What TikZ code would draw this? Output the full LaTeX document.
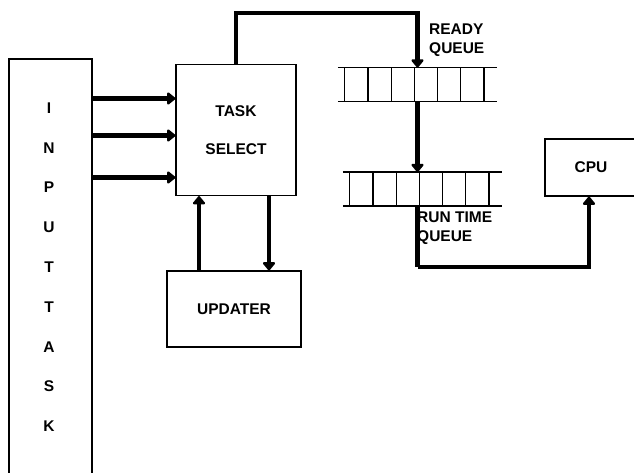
\documentclass[tikz,border=0pt]{standalone}
\usepackage{fontspec}
\setmainfont{Liberation Sans}
\usetikzlibrary{positioning,arrows.meta}

\begin{document}
\begin{tikzpicture}[x=1pt,y=-1pt,
  box/.style={draw,line width=1.2pt,inner sep=0pt,font=\fontsize{15.5}{20}\selectfont\bfseries,align=center},
  lbl/.style={inner sep=0pt,font=\fontsize{15.5}{19.5}\selectfont\bfseries,align=left},
  queue/.style={minimum width=159pt,minimum height=33.5pt,inner sep=0pt},
  link/.style={line width=4.5pt,-{Triangle[length=9pt,width=14pt,round]}},
  wire/.style={line width=4.5pt}]
  \useasboundingbox (0,0) rectangle (634,473);
  % boxes
  \node[box,minimum width=83pt,minimum height=425pt] (input) at (50.5,271.5) {};
  \foreach \c [count=\i] in {I,N,P,U,T,T,A,S,K}
    \node[lbl] (l\i) at (49,{108+39.8*(\i-1)}) {\c};
  \node[box,minimum width=120pt,minimum height=131pt] (task) at (236,130) {TASK\\[18pt]SELECT};
  \node[box,minimum width=134pt,minimum height=76pt] (updater) at (234,309) {UPDATER};
  \node[box,minimum width=92pt,minimum height=57pt] (cpu) at (591,167.5) {CPU};
  % queues
  \node[queue] (ready) at (417.5,84.5) {};
  \node[queue] (run) at (422.5,189) {};
  \foreach \q in {ready,run}{
    \draw[line width=1.2pt] (\q.north west) -- (\q.north east) (\q.south west) -- (\q.south east);
    \foreach \k [evaluate=\k as \dx using 7+23.2*\k] in {0,...,6}
      \draw[line width=1.2pt] ([xshift=\dx pt]\q.north west) -- ([xshift=\dx pt]\q.south west);
  }
  \node[lbl,anchor=west] (readylbl) at (429,40) {READY\\QUEUE};
  \node[lbl,anchor=west] (runlbl) at (417,228) {RUN TIME\\QUEUE};
  % connectors
  \foreach \dy in {31.5,-5.5,-47.5}
    \draw[link] ([yshift=\dy pt]task.west -| input.east) -- ([yshift=\dy pt]task.west);
  \coordinate (bend1) at (236,13);
  \draw[link] (task.north) -- (bend1) -| (ready.north);
  \draw[link] (ready.south) -- (ready.south |- run.north);
  \coordinate (bend2) at (417.5,267);
  \draw[wire] (ready.south |- run.south) -- (bend2);
  \draw[link] (bend2) -| ([xshift=-2pt]cpu.south);
  \coordinate (up1) at ([xshift=-37pt]task.south);
  \coordinate (dn1) at ([xshift=33pt]task.south);
  \draw[link] (up1 |- updater.north) -- (up1);
  \draw[link] (dn1) -- (dn1 |- updater.north);
\end{tikzpicture}
\end{document}
